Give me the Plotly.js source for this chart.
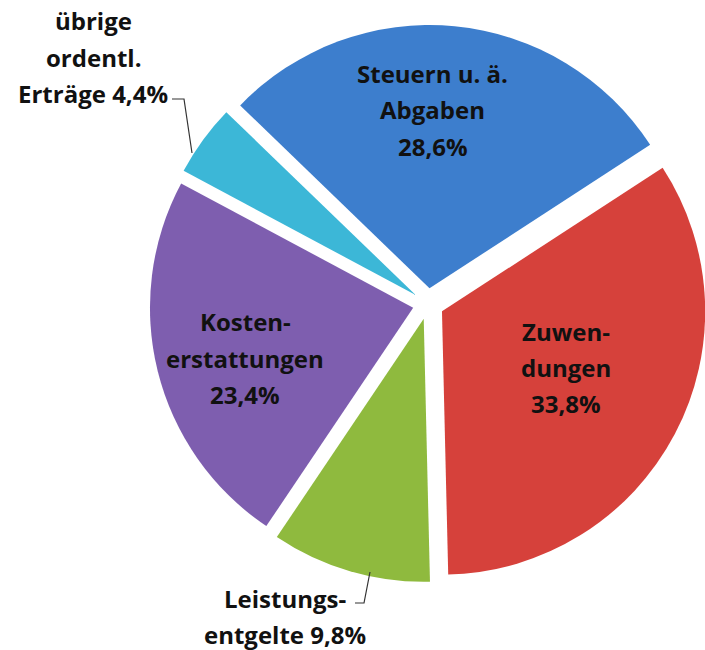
<!DOCTYPE html>
<html>
<head>
<meta charset="utf-8">
<script src="https://cdn.plot.ly/plotly-3.0.1.min.js"></script>
<style>html,body{margin:0;padding:0;background:#fff;overflow:hidden;width:705px;height:650px;}#chart{width:730px;height:650px;}</style>
</head>
<body>
<div id="chart"></div>
<script>
// Data
const categories = ['Steuern u. ä. Abgaben', 'Zuwendungen', 'Leistungsentgelte', 'Kostenerstattungen', 'übrige ordentl. Erträge'];
const shares = [28.6, 33.8, 9.8, 23.4, 4.4];
const labelLines = [
  ['Steuern u. ä.', 'Abgaben'],
  ['Zuwen-', 'dungen'],
  ['Leistungs-', 'entgelte'],
  ['Kosten-', 'erstattungen'],
  ['übrige', 'ordentl.', 'Erträge']
];
const sliceColors = ['#3d7ecd', '#d6413b', '#8fba3e', '#7e5eaf', '#3cb7d7'];

// Layout constants
const W = 730, H = 650;
const FONT = '"Open Sans", Lato, sans-serif';
const FS = 24;
const LH = 36.5;
// label anchor (center x, first line y) in pixels and whether the percentage is on its own line
const labelPos = [
  {x: 433, y: 73, own: true},
  {x: 566, y: 331, own: true},
  {x: 285, y: 598, own: false},
  {x: 245, y: 322, own: true},
  {x: 93, y: 21, own: false}
];

const fmt = v => v.toFixed(1).replace('.', ',') + '%';
const px = x => x / W;
const py = y => 1 - y / H;

const annotations = [];
labelLines.forEach((lines, i) => {
  const p = labelPos[i];
  const all = lines.slice();
  if (p.own) all.push(fmt(shares[i]));
  else all[all.length - 1] = all[all.length - 1] + ' ' + fmt(shares[i]);
  all.forEach((t, k) => {
    annotations.push({
      text: '<b>' + t + '</b>', xref: 'paper', yref: 'paper',
      x: px(p.x), y: py(p.y + k * LH), xanchor: 'center', yanchor: 'middle',
      showarrow: false, font: {family: FONT, size: FS, color: '#111111'}
    });
  });
});

const leader = pts => 'M ' + pts.map(q => px(q[0]) + ' ' + py(q[1])).join(' L ');
const shapes = [
  {type: 'path', xref: 'paper', yref: 'paper', path: leader([[172, 99], [184, 99], [192, 153]]), line: {color: '#333', width: 1.2}},
  {type: 'path', xref: 'paper', yref: 'paper', path: leader([[355, 603], [364, 603], [370, 572]]), line: {color: '#333', width: 1.2}}
];

const trace = {
  type: 'pie',
  labels: categories,
  values: shares,
  sort: false,
  direction: 'clockwise',
  rotation: -46,
  pull: [0.06, 0.06, 0.058, 0.058, 0.058],
  marker: {colors: sliceColors, line: {color: '#ffffff', width: 0}},
  textinfo: 'none',
  hoverinfo: 'label+percent',
  showlegend: false,
  domain: {x: [149 / W, 707 / W], y: [1 - 583 / H, 1 - 25 / H]}
};

const layout = {
  width: W, height: H,
  margin: {l: 0, r: 0, t: 0, b: 0},
  paper_bgcolor: '#ffffff',
  showlegend: false,
  annotations: annotations,
  shapes: shapes
};

Plotly.newPlot('chart', [trace], layout, {displayModeBar: false, staticPlot: true});
</script>
</body>
</html>
